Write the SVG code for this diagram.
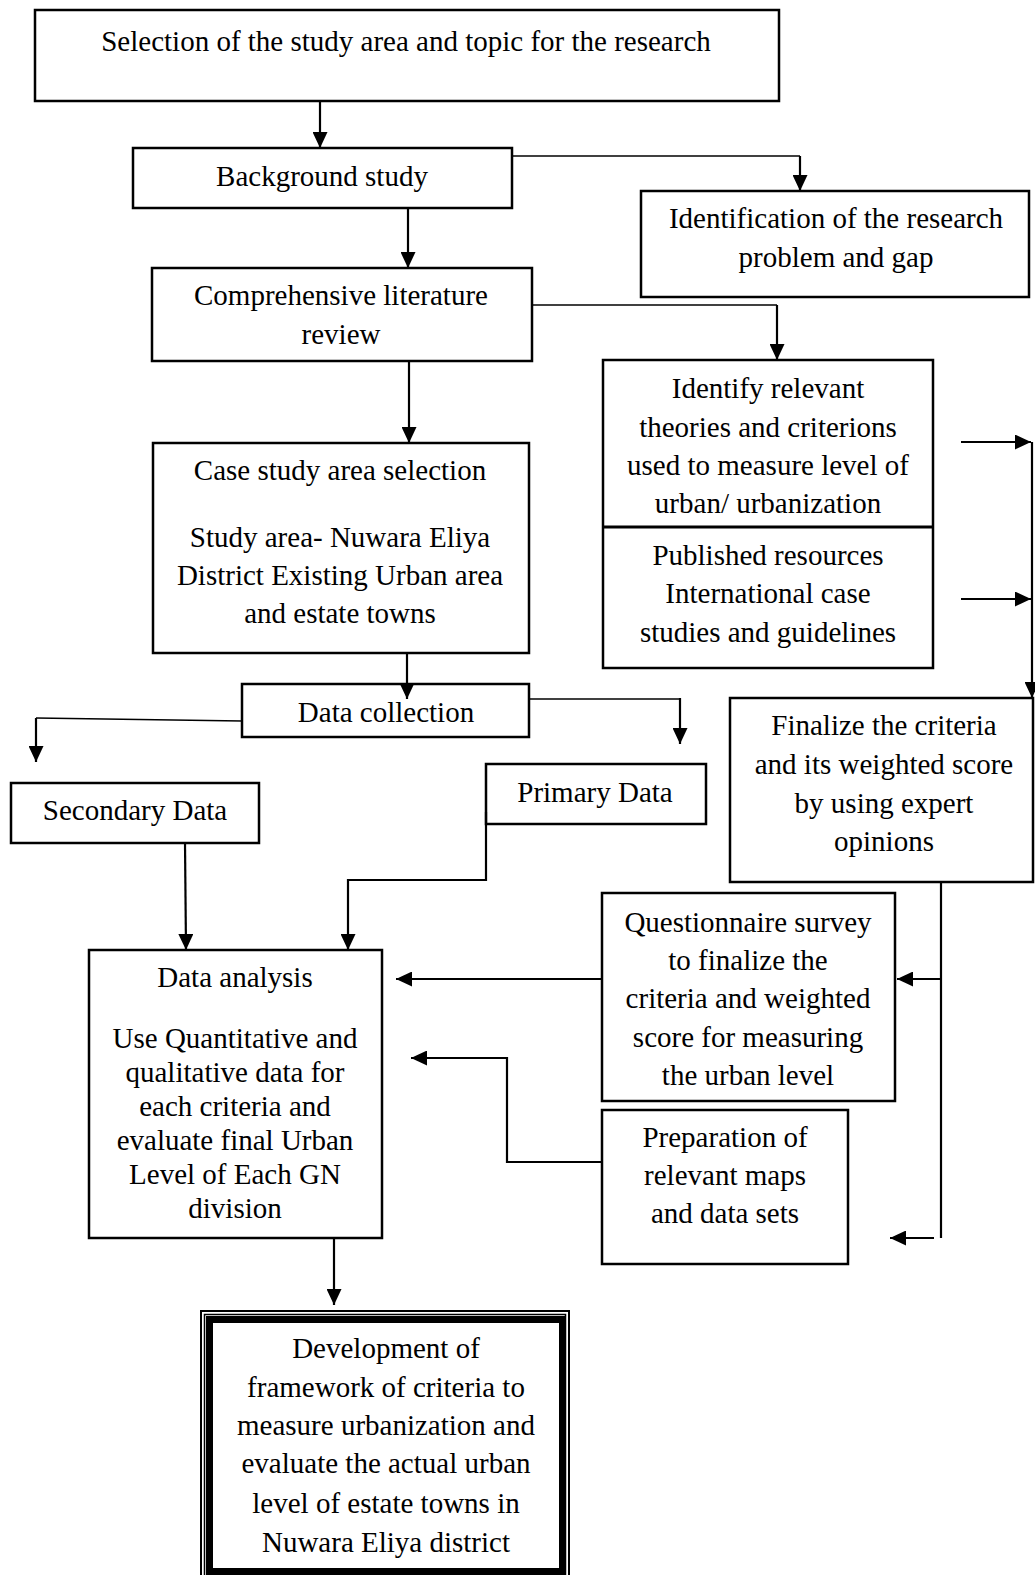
<svg xmlns="http://www.w3.org/2000/svg" width="1035" height="1575" viewBox="0 0 1035 1575">
<style>
.box{fill:#fff;stroke:#000;stroke-width:2.5}
.t{font-family:"Liberation Serif","Times New Roman",serif;font-size:29px;fill:#000;text-anchor:middle}
.c{fill:none;stroke:#000;stroke-width:2.2}
.ct{fill:none;stroke:#000;stroke-width:1.3}
</style>
<defs>
<marker id="ah" markerUnits="userSpaceOnUse" markerWidth="17" markerHeight="15" refX="16" refY="7.5" orient="auto">
<path d="M0,0 L16,7.5 L0,15 Z" fill="#000"/>
</marker>
</defs>
<rect width="1035" height="1575" fill="#fff"/>

<g id="n-top"><rect class="box" x="35" y="10" width="744" height="91"/><text class="t" x="406" y="51">Selection of the study area and topic for the research</text></g>
<g id="n-background"><rect class="box" x="133" y="148" width="379" height="60"/><text class="t" x="322" y="186">Background study</text></g>
<g id="n-ident"><rect class="box" x="641" y="191" width="388" height="106"/><text class="t" x="836" y="228">Identification of the research</text><text class="t" x="836" y="267">problem and gap</text></g>
<g id="n-complit"><rect class="box" x="152" y="268" width="380" height="93"/><text class="t" x="341" y="305">Comprehensive literature</text><text class="t" x="341" y="344">review</text></g>
<g id="n-case"><rect class="box" x="153" y="443" width="376" height="210"/><text class="t" x="340" y="480">Case study area selection</text><text class="t" x="340" y="547">Study area- Nuwara Eliya</text><text class="t" x="340" y="585">District Existing Urban area</text><text class="t" x="340" y="623">and estate towns</text></g>
<g id="n-identify"><rect class="box" x="603" y="360" width="330" height="308"/><line x1="603" y1="527" x2="933" y2="527" stroke="#000" stroke-width="3"/><text class="t" x="768" y="398">Identify relevant</text><text class="t" x="768" y="437">theories and criterions</text><text class="t" x="768" y="475">used to measure level of</text><text class="t" x="768" y="513">urban/ urbanization</text><text class="t" x="768" y="565">Published resources</text><text class="t" x="768" y="603">International case</text><text class="t" x="768" y="642">studies and guidelines</text></g>
<g id="n-finalize"><rect class="box" x="730" y="698" width="303" height="184"/><text class="t" x="884" y="735">Finalize the criteria</text><text class="t" x="884" y="774">and its weighted score</text><text class="t" x="884" y="813">by using expert</text><text class="t" x="884" y="851">opinions</text></g>
<g id="n-datacoll"><rect class="box" x="242" y="684" width="287" height="53"/><text class="t" x="386" y="722">Data collection</text></g>
<g id="n-secondary"><rect class="box" x="11" y="783" width="248" height="60"/><text class="t" x="135" y="820">Secondary Data</text></g>
<g id="n-primary"><rect class="box" x="486" y="764" width="220" height="60"/><text class="t" x="595" y="802">Primary Data</text></g>
<g id="n-analysis"><rect class="box" x="89" y="950" width="293" height="288"/><text class="t" x="235" y="987">Data analysis</text><text class="t" x="235" y="1048">Use Quantitative and</text><text class="t" x="235" y="1082">qualitative data for</text><text class="t" x="235" y="1116">each criteria and</text><text class="t" x="235" y="1150">evaluate final Urban</text><text class="t" x="235" y="1184">Level of Each GN</text><text class="t" x="235" y="1218">division</text></g>
<g id="n-questionnaire"><rect class="box" x="602" y="893" width="293" height="208"/><text class="t" x="748" y="932">Questionnaire survey</text><text class="t" x="748" y="970">to finalize the</text><text class="t" x="748" y="1008">criteria and weighted</text><text class="t" x="748" y="1047">score for measuring</text><text class="t" x="748" y="1085">the urban level</text></g>
<g id="n-preparation"><rect class="box" x="602" y="1110" width="246" height="154"/><text class="t" x="725" y="1147">Preparation of</text><text class="t" x="725" y="1185">relevant maps</text><text class="t" x="725" y="1223">and data sets</text></g>
<g id="n-final">
<rect x="201" y="1311" width="368" height="280" fill="#fff" stroke="#000" stroke-width="2"/>
<rect x="204.5" y="1314.5" width="361" height="280" fill="none" stroke="#000" stroke-width="1.5"/>
<rect x="209.5" y="1319.5" width="353" height="252" fill="none" stroke="#000" stroke-width="7"/>
<text class="t" x="386" y="1358">Development of</text><text class="t" x="386" y="1397">framework of criteria to</text><text class="t" x="386" y="1435">measure urbanization and</text><text class="t" x="386" y="1473">evaluate the actual urban</text><text class="t" x="386" y="1513">level of estate towns in</text><text class="t" x="386" y="1552">Nuwara Eliya district</text>
</g>

<g id="connectors">
<path class="c" d="M320,101 V148" marker-end="url(#ah)"/>
<path class="ct" d="M512,156 H800"/>
<path class="c" d="M800,156 V191" marker-end="url(#ah)"/>
<path class="c" d="M408,208 V268" marker-end="url(#ah)"/>
<path class="ct" d="M532,305 H777"/>
<path class="c" d="M777,305 V360" marker-end="url(#ah)"/>
<path class="c" d="M409,361 V443" marker-end="url(#ah)"/>
<path class="c" d="M407,653 V699" marker-end="url(#ah)"/>
<path class="ct" d="M242,721 L36,718"/>
<path class="c" d="M36,718 V762" marker-end="url(#ah)"/>
<path class="ct" d="M529,699 H680"/>
<path class="c" d="M680,698 V744" marker-end="url(#ah)"/>
<path class="c" d="M185,843 L186,950" marker-end="url(#ah)"/>
<path class="c" d="M486,812 V880 H348 V950" marker-end="url(#ah)"/>
<path class="c" d="M961,442 H1031" marker-end="url(#ah)"/>
<path class="c" d="M961,599 H1031" marker-end="url(#ah)"/>
<path class="c" d="M1032,442 V698" marker-end="url(#ah)"/>
<path class="c" d="M941,882 V1238"/>
<path class="c" d="M940,979 H897" marker-end="url(#ah)"/>
<path class="c" d="M602,979 H396" marker-end="url(#ah)"/>
<path class="c" d="M602,1162 H507 V1058 H411" marker-end="url(#ah)"/>
<path class="c" d="M934,1238 H890" marker-end="url(#ah)"/>
<path class="c" d="M334,1238 V1305" marker-end="url(#ah)"/>
</g>
</svg>
